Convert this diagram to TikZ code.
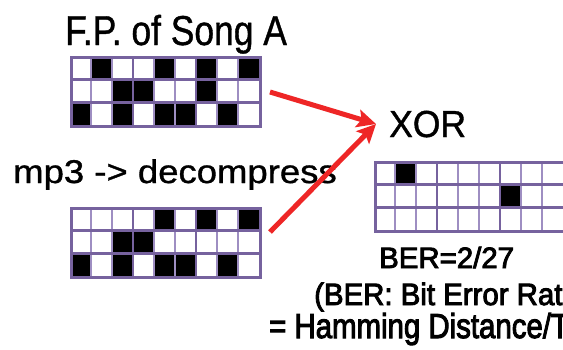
\documentclass[tikz,border=0pt]{standalone}
\usepackage{fontspec}
\setmainfont{Liberation Sans}
\newfontfamily\fbtitle[FakeBold=1]{Liberation Sans}
\newfontfamily\fblow[FakeBold=3]{Liberation Sans}
\usetikzlibrary{arrows.meta}
\definecolor{gridd}{RGB}{118,98,158}
\definecolor{gridl}{RGB}{158,142,194}
\definecolor{arr}{RGB}{238,38,38}
\tikzset{
  hline/.style={draw=gridd, line width=3pt},
  vline/.style={draw=gridl, line width=2.2pt},
  vlinedark/.style={draw=gridd, line width=2.4pt},
  gridbox/.style={draw=gridd, line width=3pt, inner sep=0pt, minimum width=189pt, minimum height=69pt, anchor=north west},
  redarrow/.style={draw=arr, line width=5pt, -{Stealth[length=19pt,width=18pt,inset=4pt]}},
  lbl/.style={inner sep=0pt, anchor=base west, text=black, text depth=0pt},
}
\newcommand\fpgrid[4]{%
  \foreach \c/\r in {#4} {\fill[black] (#2+21*\c-21, #3+23*\r-23) rectangle ++(21,23);}
  \foreach \i in {1,2,4,5,7,8} {\draw[vline] (#2+21*\i, #3) -- ++(0,69);}
  \foreach \i in {3,6} {\draw[vlinedark] (#2+21*\i, #3) -- ++(0,69);}
  \foreach \j in {1,2} {\draw[hline] (#2, #3+23*\j) -- ++(189,0);}
  \node[gridbox] (#1) at (#2,#3) {};
}
\begin{document}
\begin{tikzpicture}[x=1pt,y=-1pt]
\useasboundingbox (0,0) rectangle (563,349);
\clip (0,0) rectangle (563,349);
\fill[white] (0,0) rectangle (563,349);

\node[lbl] (t1) at (65,45) {\fbtitle\fontsize{35.4}{40}\selectfont\scalebox{1}[1.18]{F.P. of Song A}};
\node[lbl] (t2) at (13,183) {\fbtitle\fontsize{36.5}{40}\selectfont\scalebox{1}[0.9]{mp3 -> decompress}};
\node[lbl] (xor) at (389,137) {\fbtitle\fontsize{35.5}{40}\selectfont\scalebox{1}[1.06]{XOR}};
\node[lbl] (ber) at (379,268) {\fblow\fontsize{29.4}{32}\selectfont BER=2/27};
\node[lbl] (berdef) at (314,305) {\fblow\fontsize{29.4}{32}\selectfont\scalebox{1}[1.05]{(BER: Bit Error Rat}};
\node[lbl] (ham) at (269,338) {\fblow\fontsize{29.4}{32}\selectfont\scalebox{1}[1.18]{= Hamming Distance/T}};

\fpgrid{g1}{70}{56}{2/1,5/1,7/1,9/1,3/2,4/2,7/2,1/3,3/3,5/3,6/3,8/3}
\fpgrid{g2}{70}{207}{5/1,7/1,9/1,3/2,4/2,1/3,3/3,5/3,6/3,8/3}
\fpgrid{g3}{374}{161}{2/1,7/2}

\coordinate (s1) at (270,92);
\coordinate (s2) at (270,232);
\coordinate (tip) at (376,124);
\draw[redarrow] (s1) -- (tip);
\draw[redarrow] (s2) -- (tip);
\end{tikzpicture}
\end{document}
